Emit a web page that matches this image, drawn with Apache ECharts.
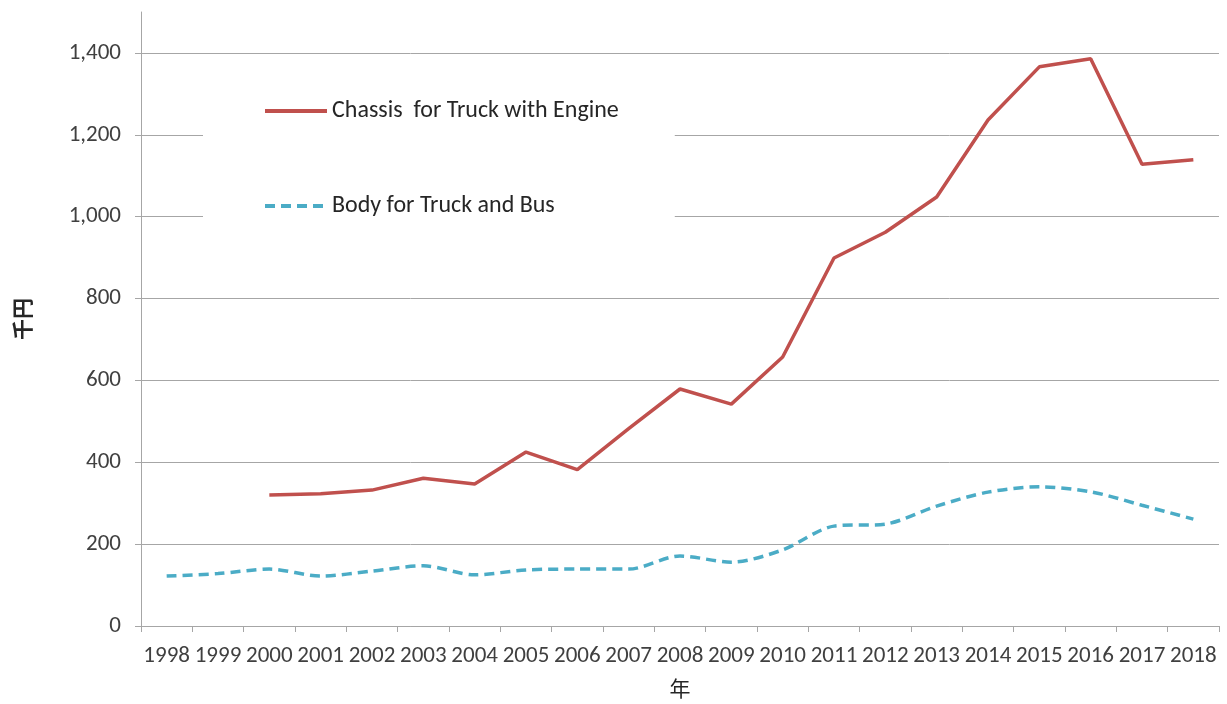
<!DOCTYPE html>
<html><head><meta charset="utf-8">
<script src="https://cdn.jsdelivr.net/npm/echarts@6/dist/echarts.min.js"></script>
<style>html,body{margin:0;padding:0;background:#fff}#c{width:1227px;height:704px}</style>
</head><body><div id="c"></div>
<script>
const years = ['1998','1999','2000','2001','2002','2003','2004','2005','2006','2007','2008','2009','2010','2011','2012','2013','2014','2015','2016','2017','2018'];
const chassis = [null,null,320,323,332,361,347,425,382,482,579,542,657,899,962,1048,1236,1366,1386,1128,1139];
const body = [122,128,139,122,134,147,125,137,139,139,171,156,186,244,249,293,327,340,328,295,261];
const yTicks = [0,200,400,600,800,1000,1200,1400];
const seriesNames = ['Chassis  for Truck with Engine','Body for Truck and Bus'];

const font = 'Carlito, Lato, "Open Sans", sans-serif';
const chart = echarts.init(document.getElementById('c'));
chart.setOption({
  animation:false,
  backgroundColor:'#fff',
  grid:{left:141,right:8,top:12,bottom:78,containLabel:false},
  legend:{
    orient:'vertical', left:203, top:69,
    padding:[30,56,30,60],
    backgroundColor:'#fff',
    itemWidth:62, itemHeight:16, itemGap:71,
    itemStyle:{opacity:0},
    lineStyle:{width:4},
    textStyle:{fontSize:24,color:'#262626',fontFamily:font},
    data:seriesNames
  },
  xAxis:{
    type:'category', data:years, boundaryGap:true,
    name:'年', nameLocation:'middle', nameGap:52,
    nameTextStyle:{fontSize:21,color:'#262626',fontFamily:'"Noto Sans CJK JP", sans-serif'},
    axisLine:{lineStyle:{color:'#a6a6a6',width:1}},
    axisTick:{show:true,alignWithLabel:false,length:6,lineStyle:{color:'#a6a6a6'}},
    axisLabel:{interval:0,fontSize:23,color:'#404040',margin:19,fontFamily:font}
  },
  yAxis:{
    type:'value', min:0, max:1500, interval:200,
    name:'千円', nameLocation:'middle', nameGap:108, nameRotate:90,
    nameTextStyle:{fontSize:21,fontWeight:'bold',color:'#262626',fontFamily:'"Noto Sans CJK JP", sans-serif'},
    axisLine:{show:true,lineStyle:{color:'#a6a6a6',width:1}},
    axisTick:{show:true,length:6,customValues:yTicks,lineStyle:{color:'#a6a6a6'}},
    axisLabel:{customValues:yTicks,fontSize:23,color:'#404040',margin:20,fontFamily:font,
      formatter:v=>v.toLocaleString('en-US')},
    splitLine:{show:true,lineStyle:{color:'#a6a6a6',width:1}}
  },
  series:[
    {name:seriesNames[0],type:'line',data:chassis,symbol:'none',connectNulls:false,
      lineStyle:{color:'#C0504D',width:3.5},itemStyle:{color:'#C0504D'}},
    {name:seriesNames[1],type:'line',data:body,symbol:'none',smooth:0.3,
      lineStyle:{color:'#4BACC6',width:3.5,type:[10,6]},itemStyle:{color:'#4BACC6'}}
  ]
});
</script></body></html>
